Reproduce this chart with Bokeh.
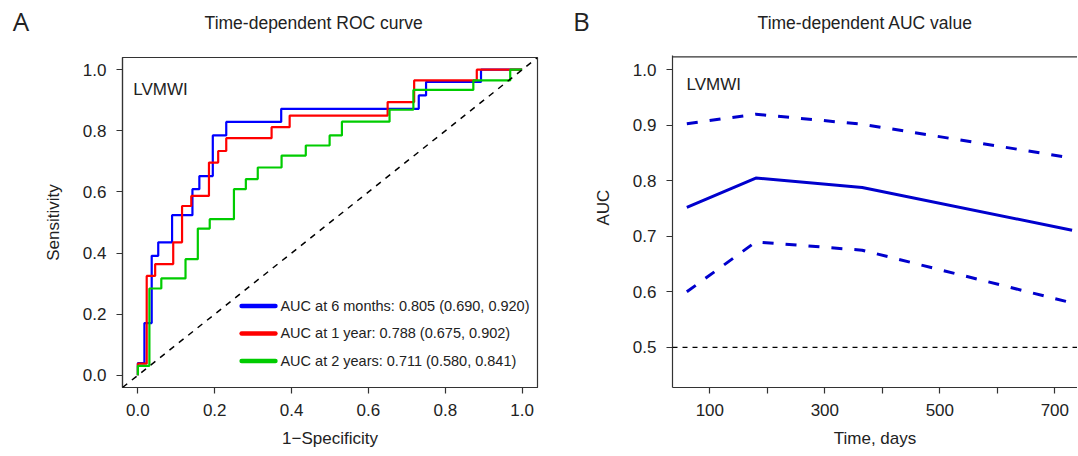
from bokeh.plotting import figure
from bokeh.models import Range1d, FixedTicker, Label, Span, Slope, PrintfTickFormatter, Div, Title
from bokeh.layouts import row, column
from bokeh.embed import file_html
from bokeh.resources import INLINE

FONT = "Liberation Sans"
TXT = "#222222"
FRAME = "#333333"

# ---------------- data: panel A (time-dependent ROC) ----------------
fpr_6m = [0.0, 0.0, 0.017, 0.036, 0.053, 0.089, 0.142, 0.160, 0.195, 0.230, 0.373, 0.731, 0.750, 0.893, 1.0]
tpr_6m = [0.0, 0.040, 0.171, 0.391, 0.435, 0.524, 0.609, 0.652, 0.785, 0.829, 0.872, 0.916, 0.960, 1.0, 1.0]
fpr_1y = [0.0, 0.0, 0.023, 0.045, 0.092, 0.115, 0.139, 0.185, 0.209, 0.230, 0.348, 0.395, 0.650, 0.719, 0.882, 1.0]
tpr_1y = [0.0, 0.038, 0.325, 0.364, 0.435, 0.554, 0.587, 0.696, 0.734, 0.776, 0.812, 0.850, 0.894, 0.965, 1.0, 1.0]
fpr_2y = [0.0, 0.0, 0.030, 0.061, 0.124, 0.156, 0.187, 0.250, 0.281, 0.312, 0.374, 0.437, 0.499, 0.531, 0.655, 0.717, 0.873, 0.969, 1.0]
tpr_2y = [0.0, 0.031, 0.284, 0.317, 0.380, 0.480, 0.511, 0.609, 0.642, 0.680, 0.719, 0.752, 0.785, 0.830, 0.869, 0.934, 0.965, 1.0, 1.0]
roc_colors = ["#0000FF", "#FF0000", "#00CC00"]
legend_labels = [
    "AUC at 6 months: 0.805 (0.690, 0.920)",
    "AUC at 1 year: 0.788 (0.675, 0.902)",
    "AUC at 2 years: 0.711 (0.580, 0.841)",
]
roc_ticks = [0.0, 0.2, 0.4, 0.6, 0.8, 1.0]

# ---------------- data: panel B (time-dependent AUC) ----------------
auc_times = [60, 180, 365, 730]
auc_est = [0.752, 0.805, 0.788, 0.711]
auc_upper = [0.903, 0.920, 0.902, 0.841]
auc_lower = [0.600, 0.690, 0.675, 0.580]
auc_xticks = [100, 200, 300, 400, 500, 600, 700]
auc_xlabels_hidden = [200, 400, 600]
auc_yticks = [0.5, 0.6, 0.7, 0.8, 0.9, 1.0]
AUC_COLOR = "#0000CD"


def style_axis(ax, ticks):
    ax.ticker = FixedTicker(ticks=ticks)
    ax.major_tick_in = 0
    ax.major_tick_out = 6
    ax.major_tick_line_color = FRAME
    ax.major_tick_line_width = 1.2
    ax.minor_tick_line_color = None
    ax.axis_line_color = FRAME
    ax.axis_line_width = 1.2
    ax.major_label_text_font = FONT
    ax.major_label_text_font_size = "17px"
    ax.major_label_text_color = TXT
    ax.major_label_standoff = 10
    ax.axis_label_text_font = FONT
    ax.axis_label_text_font_size = "17px"
    ax.axis_label_text_font_style = "normal"
    ax.axis_label_text_color = TXT


def label(p, x, y, text, size="17px", baseline="alphabetic"):
    p.add_layout(Label(x=x, y=y, text=text, text_font=FONT, text_font_size=size,
                       text_color=TXT, text_align="left", text_baseline=baseline))


def header_html(letter, letter_left, title, title_left):
    return (
        '<div style="position:relative;height:40px;width:100%%;color:%s;white-space:nowrap;">'
        '<div style="position:absolute;left:%spx;top:7.9px;font-family:\'Open Sans\';font-size:26px;line-height:26px;">%s</div>'
        '<div style="position:absolute;left:%spx;top:12.9px;font-family:\'%s\';font-size:17.5px;line-height:20px;">%s</div>'
        '</div>' % (TXT, letter_left, letter, title_left, FONT, title)
    )


# ================= Panel A =================
p1 = figure(width=560, height=412, x_range=Range1d(-0.04, 1.04), y_range=Range1d(-0.04, 1.04),
            output_backend="svg", toolbar_location=None,
            min_border_left=122, min_border_right=23, min_border_top=17, min_border_bottom=65)
p1.grid.visible = False
p1.outline_line_color = FRAME
p1.outline_line_width = 1.2
for ax in (p1.xaxis[0], p1.yaxis[0]):
    style_axis(ax, roc_ticks)
    ax.formatter = PrintfTickFormatter(format="%.1f")
p1.xaxis[0].axis_label = "1\u2212Specificity"
p1.xaxis[0].axis_label_standoff = 10
p1.yaxis[0].axis_label = "Sensitivity"
p1.yaxis[0].axis_label_standoff = 17

p1.add_layout(Slope(gradient=1, y_intercept=0, line_color="black", line_width=1.5, line_dash="6 6"))

for xs, ys, c in zip([fpr_6m, fpr_1y, fpr_2y], [tpr_6m, tpr_1y, tpr_2y], roc_colors):
    p1.step(xs, ys, mode="after", line_color=c, line_width=2.2)

# legend (manual, R style, no box)
leg_x0, leg_x1, leg_tx = 0.270, 0.358, 0.371
leg_rows = [0.227, 0.137, 0.047]
for yy, c, t in zip(leg_rows, roc_colors, legend_labels):
    p1.segment(x0=leg_x0, y0=yy, x1=leg_x1, y1=yy, line_color=c, line_width=4.5, line_cap="round")
    label(p1, leg_tx, yy, t, size="14.5px", baseline="middle")

label(p1, -0.012, 0.935, "LVMWI")

# ================= Panel B =================
p2 = figure(width=517, height=412, x_range=Range1d(35.1, 739.4), y_range=Range1d(0.4276, 1.0258),
            output_backend="svg", toolbar_location=None,
            min_border_left=112, min_border_right=0, min_border_top=15, min_border_bottom=65)
p2.grid.visible = False
p2.outline_line_color = None
style_axis(p2.xaxis[0], auc_xticks)
p2.xaxis[0].major_label_overrides = {t: "" for t in auc_xlabels_hidden}
p2.xaxis[0].axis_label = "Time, days"
p2.xaxis[0].axis_label_standoff = 10
style_axis(p2.yaxis[0], auc_yticks)
p2.yaxis[0].formatter = PrintfTickFormatter(format="%.1f")
p2.add_layout(Title(text="AUC", align="left", offset=162, text_font=FONT, text_font_size="17px",
                    text_font_style="normal", text_color=TXT, standoff=33), "left")

p2.add_layout(Span(location=1.0235, dimension="width", line_color=FRAME, line_width=1.2))
p2.add_layout(Span(location=0.5, dimension="width", line_color="black", line_width=1.3, line_dash="5 5"))

p2.line(auc_times, auc_upper, line_color=AUC_COLOR, line_width=3, line_dash="11 12")
p2.line(auc_times, auc_lower, line_color=AUC_COLOR, line_width=3, line_dash="11 12")
p2.line(auc_times, auc_est, line_color=AUC_COLOR, line_width=3)

label(p2, 59.45, 0.973, "LVMWI")

# ================= headers (panel letters and titles) =================
divTA = Div(text=header_html("A", 12.7, "Time-dependent ROC curve", 204.6),
            width=560, height=40, margin=(0, 0, 0, 0))
divTB = Div(text=header_html("B", 13, "Time-dependent AUC value", 197.6),
            width=517, height=40, margin=(0, 0, 0, 0))

layout = row(column(divTA, p1, spacing=0), column(divTB, p2, spacing=0), spacing=0)
open("out.html", "w").write(file_html(layout, INLINE))
